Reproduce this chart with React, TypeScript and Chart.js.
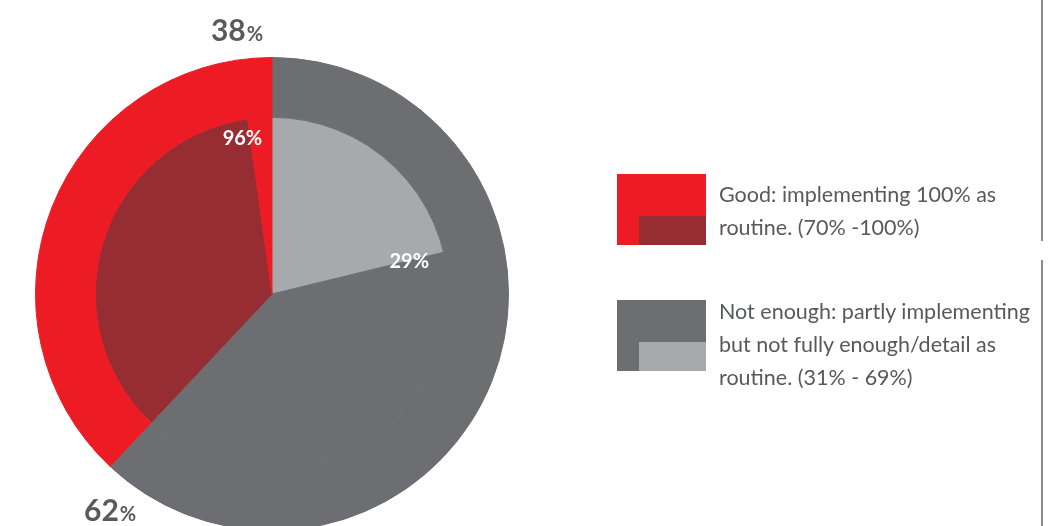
import React, { useEffect, useRef } from "react";
import { Chart, registerables } from "chart.js";

Chart.register(...registerables);

// ---- data ----
const categories = ["Not enough", "Good"];
const outerValues = [62, 38];
const outerLabels = ["62", "38"];
// inner pie: [share of "not enough" light, remainder, share of "good" dark, remainder]
const innerValues = [21.2, 40.8, 35.8, 2.2];
const innerLabels = ["29%", "", "96%", ""];
const legendTexts = [
  ["Good: implementing 100% as", "routine. (70% -100%)"],
  ["Not enough: partly implementing", "but not fully enough/detail as", "routine. (31% - 69%)"],
];

const RED = "#ED1C24";
const DARK_RED = "#952D33";
const GRAY = "#6D6E71";
const LIGHT_GRAY = "#A7A9AC";
const TEXT = "#58595B";

const labelPlugin = {
  id: "pctLabels",
  afterDatasetsDraw(chart: any) {
    const ctx = chart.ctx;
    const outer = chart.getDatasetMeta(0).data;
    const inner = chart.getDatasetMeta(1).data;
    ctx.save();
    const offsets = [
      [0, 55],
      [-35, -17],
    ];
    outer.forEach((arc: any, i: number) => {
      const p = arc.getProps(["x", "y", "endAngle", "outerRadius"], true);
      const ax = p.x + Math.cos(p.endAngle) * p.outerRadius;
      const ay = p.y + Math.sin(p.endAngle) * p.outerRadius;
      const big = "bold 30px Lato";
      const small = "bold 20px Lato";
      ctx.font = big;
      const w1 = ctx.measureText(outerLabels[i]).width;
      ctx.font = small;
      const w2 = ctx.measureText("%").width;
      const cx = ax + offsets[i][0];
      const by = ay + offsets[i][1];
      const left = cx - (w1 + w2 + 1) / 2;
      ctx.fillStyle = "#5A5A5C";
      ctx.textBaseline = "alphabetic";
      ctx.textAlign = "left";
      ctx.font = big;
      ctx.fillText(outerLabels[i], left, by);
      ctx.font = small;
      ctx.fillText("%", left + w1 + 1, by);
    });
    const polar: Record<number, [number, number]> = { 0: [141, 0.009], 2: [158, -0.05] };
    inner.forEach((arc: any, i: number) => {
      if (!innerLabels[i]) return;
      const p = arc.getProps(["x", "y", "endAngle"], true);
      const [r, da] = polar[i];
      const a = p.endAngle + da;
      ctx.font = "bold 20px Lato";
      ctx.fillStyle = "#FFFFFF";
      ctx.textAlign = "center";
      ctx.textBaseline = "middle";
      ctx.fillText(innerLabels[i], p.x + Math.cos(a) * r, p.y + Math.sin(a) * r);
    });
    ctx.restore();
  },
};

export default function App() {
  const ref = useRef<HTMLCanvasElement | null>(null);
  useEffect(() => {
    if (!ref.current) return;
    const outerColors = [GRAY, RED];
    const innerColors = [LIGHT_GRAY, GRAY, DARK_RED, RED];
    const chart = new Chart(ref.current, {
      type: "pie",
      data: {
        labels: categories,
        datasets: [
          {
            data: outerValues,
            backgroundColor: outerColors,
            borderColor: outerColors,
            borderWidth: 1,
            weight: 60,
          } as any,
          {
            data: innerValues,
            backgroundColor: innerColors,
            borderColor: innerColors,
            borderWidth: 1,
            weight: 177,
          } as any,
        ],
      },
      options: {
        responsive: true,
        maintainAspectRatio: false,
        animation: false,
        cutout: 0,
        layout: { padding: { top: 57, left: 35, right: 543, bottom: 29 } },
        plugins: { legend: { display: false }, tooltip: { enabled: false } },
      } as any,
      plugins: [labelPlugin],
    });
    return () => chart.destroy();
  }, []);

  const box = (main: string, sub: string, top: number) => (
    <div style={{ position: "absolute", left: 617, top, width: 89, height: 71, background: main }}>
      <div style={{ position: "absolute", left: 22, top: 42, width: 67, height: 29, background: sub }} />
    </div>
  );

  const text = (lines: string[], top: number) => (
    <div
      style={{
        position: "absolute",
        left: 719,
        top,
        fontFamily: "Lato",
        fontSize: 21.5,
        lineHeight: "33px",
        color: TEXT,
        whiteSpace: "nowrap",
      }}
    >
      {lines.map((l, i) => (
        <div key={i}>{l}</div>
      ))}
    </div>
  );

  return (
    <div
      style={{
        position: "fixed",
        left: 0,
        top: 0,
        width: 1052,
        height: 526,
        overflow: "hidden",
        background: "#fff",
      }}
    >
      <div style={{ position: "absolute", left: 0, top: 0, width: 1052, height: 560 }}>
        <canvas ref={ref} />
      </div>
      {box(RED, DARK_RED, 174)}
      {text(legendTexts[0], 178)}
      {box(GRAY, LIGHT_GRAY, 300)}
      {text(legendTexts[1], 295)}
      <div style={{ position: "absolute", left: 1041, top: 0, width: 2, height: 241, background: "#8A8A8C" }} />
      <div style={{ position: "absolute", left: 1041, top: 260, width: 2, height: 266, background: "#8A8A8C" }} />
    </div>
  );
}
